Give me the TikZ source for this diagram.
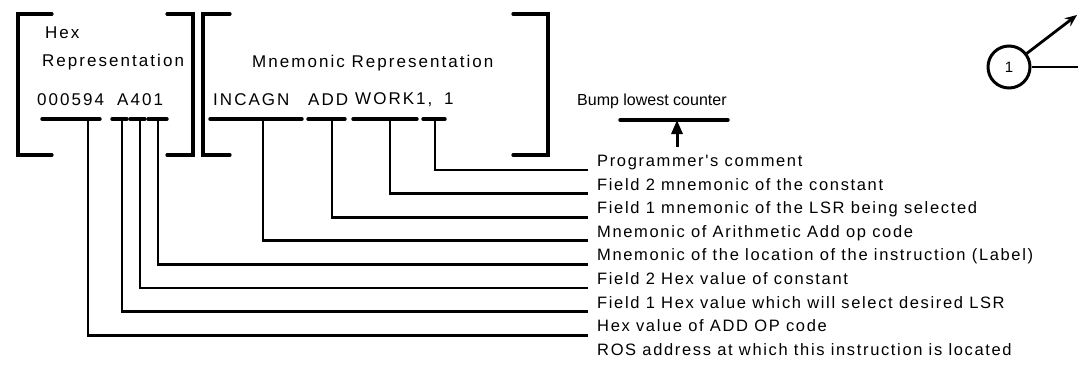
\documentclass[tikz,border=0pt]{standalone}
\usepackage{fontspec}
\setmainfont{Liberation Sans}
\newfontfamily\codefont[LetterSpace=12]{Liberation Sans}
\newfontfamily\notefont[LetterSpace=10]{Liberation Sans}
\usetikzlibrary{arrows.meta}

\begin{document}
\begin{tikzpicture}[
    x=1pt, y=-1pt,
    bracket/.style={line width=3.2pt, line cap=round},
    uline/.style={line width=3.4pt, line cap=round},
    lead/.style={line width=2.8pt},
    code/.style={anchor=west, inner sep=0pt, font=\fontsize{17}{20}\codefont},
    note/.style={anchor=base west, inner xsep=9pt, inner ysep=0pt, font=\fontsize{16.5}{19}\notefont},
    arrow/.style={-{Triangle[length=14pt, width=11pt]}, line width=3pt}
]
\useasboundingbox (0,0) rectangle (1078,372);

% brackets round the two representations
\draw[bracket] (52,14) -- (18,14) -- (18,155) -- (52,155);
\draw[bracket] (167,14) -- (193,14) -- (193,155) -- (167,155);
\draw[bracket] (230,14) -- (203,14) -- (203,155) -- (230,155);
\draw[bracket] (513,14) -- (548,14) -- (548,155) -- (513,155);

% hex representation
\node[code] (hex) at (45,33) {Hex};
\node[code] (hexrep) at (42,62) {Representation};
\node[code] (addr) at (37,100) {000594};
\node[code] (op) at (117,100) {A401};

% mnemonic representation
\node[code] (mnrep) at (252,63) {Mnemonic Representation};
\node[code] (lab) at (213,100) {INCAGN};
\node[code] (mnop) at (308,100) {ADD};
\node[code] (fld) at (355,100) {WORK1,\hspace{5pt} 1};
\node[anchor=west, inner sep=0pt, font=\fontsize{16}{19}\selectfont] (bump) at (577,101) {Bump lowest counter};

% underlines
\draw[uline] (42,119) -- (100,119);
\draw[uline] (112,119) -- (127,119);
\draw[uline] (130,119) -- (145,119);
\draw[uline] (148,119) -- (167,119);
\draw[uline] (210,119) -- (302,119);
\draw[uline] (308,119) -- (345,119);
\draw[uline] (353,119) -- (417,119);
\draw[uline] (423,119) -- (445,119);
\draw[uline] (620,120) -- (728,120);

\coordinate (s1) at (435,119);
\coordinate (s2) at (390,119);
\coordinate (s3) at (332,119);
\coordinate (s4) at (263,119);
\coordinate (s5) at (158,119);
\coordinate (s6) at (140,119);
\coordinate (s7) at (122,119);
\coordinate (s8) at (88,119);
\coordinate (bumpmid) at (677,120);

% explanations
\node[note] (lbl1) at (588,166.5) {Programmer's comment};
\node[note] (lbl2) at (588,190.1) {Field 2 mnemonic of the constant};
\node[note] (lbl3) at (588,213.7) {Field 1 mnemonic of the LSR being selected};
\node[note] (lbl4) at (588,237.3) {Mnemonic of Arithmetic Add op code};
\node[note] (lbl5) at (588,260.9) {Mnemonic of the location of the instruction (Label)};
\node[note] (lbl6) at (588,284.5) {Field 2 Hex value of constant};
\node[note] (lbl7) at (588,308.1) {Field 1 Hex value which will select desired LSR};
\node[note] (lbl8) at (588,331.7) {Hex value of ADD OP code};
\node[note] (lbl9) at (588,355.3) {ROS address at which this instruction is located};

\draw[lead] (s1) |- ([yshift=-3.5pt]lbl1.base west);
\draw[lead] (s2) |- ([yshift=-3.5pt]lbl2.base west);
\draw[lead] (s3) |- ([yshift=-3.5pt]lbl3.base west);
\draw[lead] (s4) |- ([yshift=-3.5pt]lbl4.base west);
\draw[lead] (s5) |- ([yshift=-3.5pt]lbl5.base west);
\draw[lead] (s6) |- ([yshift=-3.5pt]lbl6.base west);
\draw[lead] (s7) |- ([yshift=-3.5pt]lbl7.base west);
\draw[lead] (s8) |- ([yshift=-3.5pt]lbl8.base west);

\draw[arrow] ([yshift=8pt]lbl1.north -| bumpmid) -- (bumpmid);

% step marker at the top right
\node[draw, circle, line width=3pt, minimum size=42pt, inner sep=0pt, font=\fontsize{15}{18}\selectfont] (one) at (1009,67) {1};
\coordinate (edgeup) at (1077,15);
\coordinate (edgeright) at (1078,67);
\draw[-{Stealth[length=12pt, width=10pt]}, line width=2.8pt] (one) -- (edgeup);
\draw[lead] (one) -- (edgeright);
\end{tikzpicture}
\end{document}
